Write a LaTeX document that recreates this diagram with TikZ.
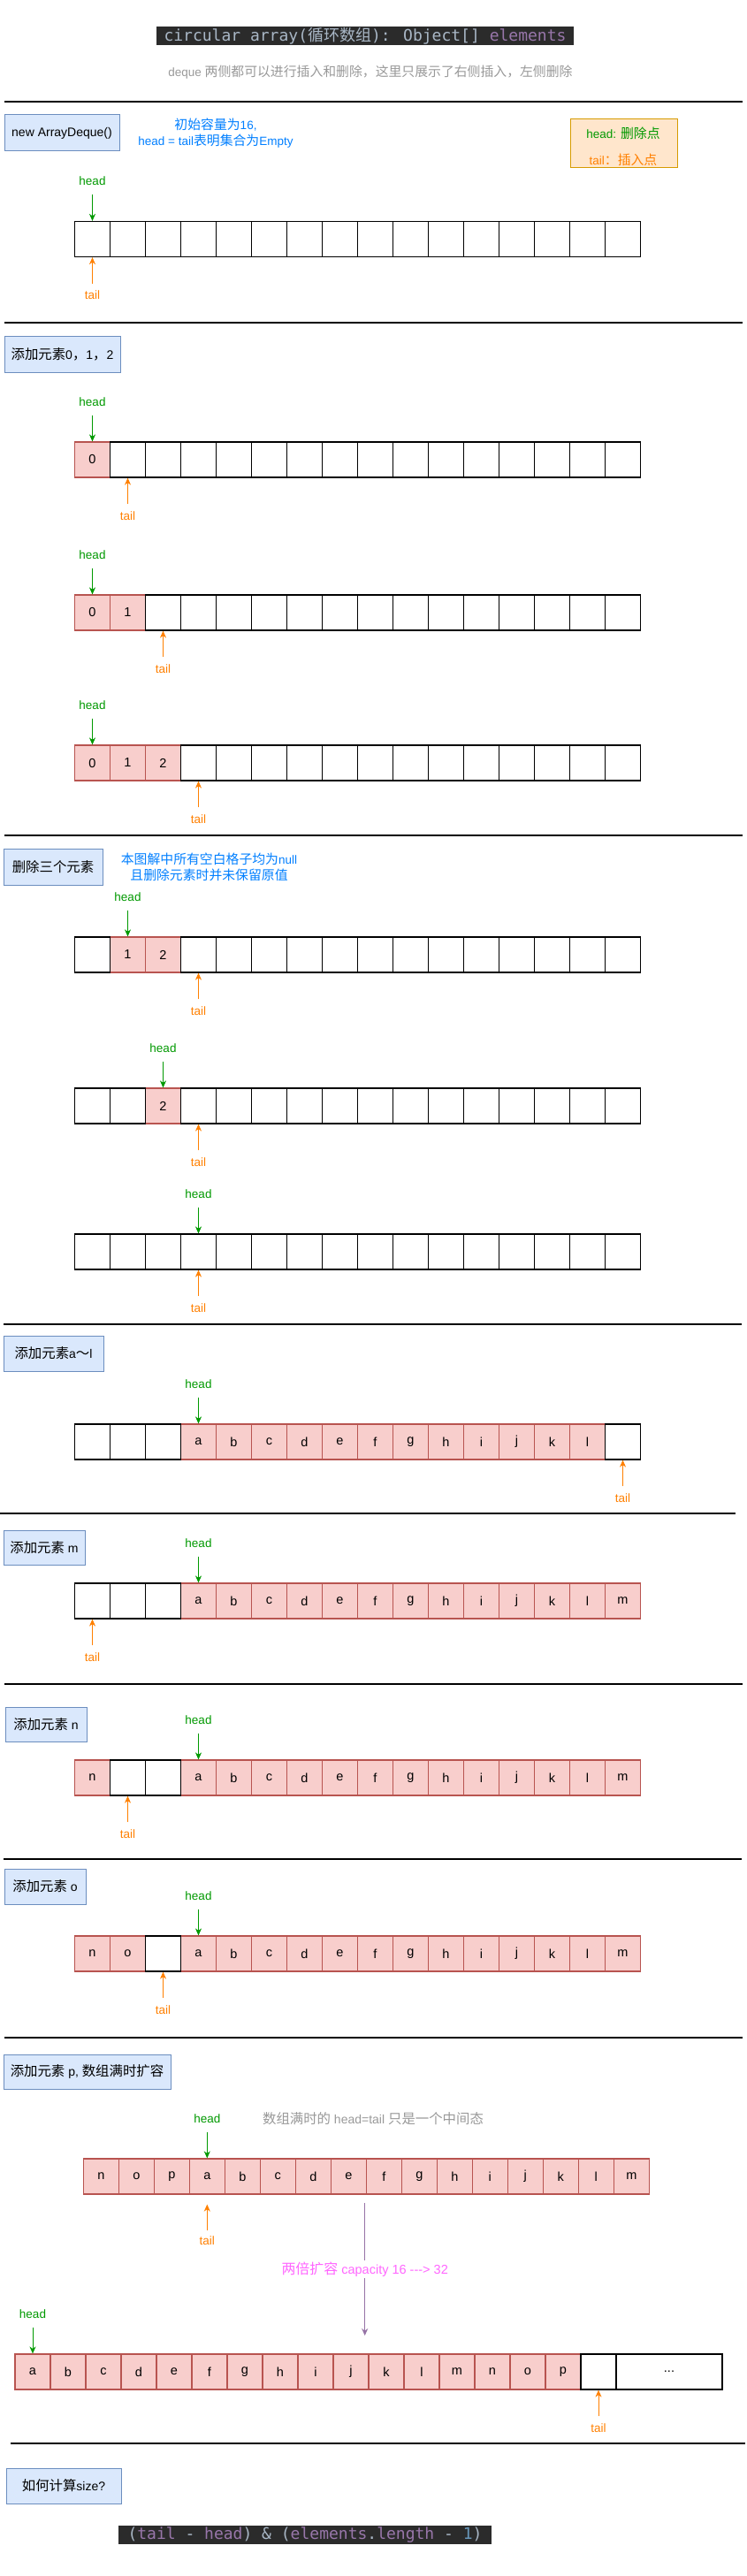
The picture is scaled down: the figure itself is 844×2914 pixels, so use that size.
\documentclass[tikz,border=0pt]{standalone}
\usepackage{fontspec}
\setmainfont{Liberation Sans}
\newfontfamily\cjk{Noto Sans CJK SC}[Scale=1.1]
\newfontfamily\cjkm{Noto Sans CJK SC}
\newfontfamily\monof{DejaVu Sans Mono}
\usetikzlibrary{arrows.meta,calc}
\newcommand\zh[1]{{\cjk #1}}
\newcommand\fsz[2]{\fontsize{#1}{#2}\selectfont}
\definecolor{hgreen}{HTML}{009900}
\definecolor{torange}{HTML}{FF8000}
\definecolor{tblue}{HTML}{007FFF}
\definecolor{tgray}{HTML}{999999}
\definecolor{tmag}{HTML}{FF66FF}
\definecolor{purpline}{HTML}{9673A6}
\definecolor{secf}{HTML}{DAE8FC}
\definecolor{secb}{HTML}{6C8EBF}
\definecolor{pinkf}{HTML}{F8CECC}
\definecolor{pinkb}{HTML}{B85450}
\definecolor{legf}{HTML}{FFE6CC}
\definecolor{legb}{HTML}{D79B00}
\definecolor{codebg}{HTML}{2B2B2B}
\definecolor{codegray}{HTML}{A9B7C6}
\definecolor{codepurp}{HTML}{9876AA}
\definecolor{codeblue}{HTML}{6897BB}
\tikzset{
  wcell/.style={draw=black, fill=white, line width=1.2pt, minimum width=40pt, minimum height=40pt, inner sep=0pt, font=\fsz{14.5}{17}},
  pcell/.style={draw=pinkb, fill=pinkf, line width=1.2pt, minimum width=40pt, minimum height=40pt, inner sep=0pt, font=\fsz{14.5}{17}},
  secbox/.style={draw=secb, fill=secf, line width=1pt, inner sep=0pt, font=\fsz{14}{17}},
  hlab/.style={text=hgreen, font=\fsz{13.5}{16}, inner sep=0pt},
  tlab/.style={text=torange, font=\fsz{13.5}{16}, inner sep=0pt},
  harrow/.style={draw=hgreen, line width=1pt, -{Stealth[length=8pt,width=7pt,inset=2.5pt]}, shorten <=10pt},
  tarrow/.style={draw=torange, line width=1pt, -{Stealth[length=8pt,width=7pt,inset=2.5pt]}, shorten <=8pt},
  parrow/.style={draw=purpline, line width=1pt, -{Stealth[length=8pt,width=7pt,inset=2.5pt]}},
  sepline/.style={draw=black, line width=1.2pt},
  note/.style={inner sep=0pt, align=center},
}
\newcommand\whitecells[4]{\foreach \i in {#4}{\node[wcell] (#1-\i) at ({#2+40*\i+20},{#3+20}) {};}}
\newcommand\pinkcells[4]{\foreach \i/\lbl in {#4}{\node[pcell] (#1-\i) at ({#2+40*\i+20},{#3+20}) {\lbl};}}
\newcommand\headptr[2]{\path (#2.north) ++(0,-45) node[hlab] (#1) {head}; \draw[harrow] (#1) -- (#2.north);}
\newcommand\tailptr[2]{\path (#2.south) ++(0,43) node[tlab] (#1) {tail}; \draw[tarrow] (#1) -- (#2.south);}
\begin{document}
\begin{tikzpicture}[x=1pt,y=-1pt]
\useasboundingbox (0,0) rectangle (844,2914);
\fill[white] (0,0) rectangle (844,2914);
% title
\node[fill=codebg, minimum width=472pt, minimum height=21pt, inner sep=0pt, text=codegray, font={\monof\fsz{18}{21}}] (title) at (413,40.5)
  {circular array({\cjkm 循环数组}): Object[] \textcolor{codepurp}{elements}};
\node[note, text=tgray, font=\fsz{13.5}{16}] (subtitle) at (419,82)
  {deque \zh{两侧都可以进行插入和删除，这里只展示了右侧插入，左侧删除}};
% separators
\draw[sepline] (5,115) -- (840,115);
\draw[sepline] (5,365) -- (840,365);
\draw[sepline] (5,945) -- (840,945);
\draw[sepline] (4,1498) -- (839,1498);
\draw[sepline] (0,1712) -- (832,1712);
\draw[sepline] (5,1905) -- (840,1905);
\draw[sepline] (4,2103) -- (839,2103);
\draw[sepline] (5,2305) -- (840,2305);
\draw[sepline] (12,2764) -- (843,2764);
% section 1
\node[secbox, minimum width=130pt, minimum height=41pt] (s1) at (70,150.5) {new ArrayDeque()};
\node[note, text=tblue, font=\fsz{13.5}{18}] (n1) at (244,151) {\zh{初始容量为}16,\\head = tail\zh{表明集合为}Empty};
\node[draw=legb, fill=legf, line width=1pt, minimum width=121pt, minimum height=55pt, inner sep=0pt] (legend) at (705.5,162.5) {};
\node[note, text=hgreen, font=\fsz{13.5}{16}] (leg1) at (705,151) {head: \zh{删除点}};
\node[note, text=torange, font=\fsz{13.5}{16}] (leg2) at (705,181) {tail\zh{：插入点}};
\whitecells{ra}{84.5}{250.5}{0,...,15}
\headptr{ha}{ra-0}\tailptr{ta}{ra-0}
% section 2
\node[secbox, minimum width=131pt, minimum height=41pt] (s2) at (70.5,400.5) {\zh{添加元素}0\zh{，}1\zh{，}2};
\pinkcells{rb}{84.5}{500}{0/0}
\whitecells{rb}{84.5}{500}{1,...,15}
\headptr{hb}{rb-0}\tailptr{tb}{rb-1}
\pinkcells{rc}{84.5}{673}{0/0,1/1}
\whitecells{rc}{84.5}{673}{2,...,15}
\headptr{hc}{rc-0}\tailptr{tc}{rc-2}
\pinkcells{rd}{84.5}{843}{0/0,1/1,2/2}
\whitecells{rd}{84.5}{843}{3,...,15}
\headptr{hd}{rd-0}\tailptr{td}{rd-3}
% section 3
\node[secbox, minimum width=112pt, minimum height=41pt] (s3) at (60,980.5) {\zh{删除三个元素}};
\node[note, text=tblue, font=\fsz{13.5}{18}] (n2) at (236.5,981) {\zh{本图解中所有空白格子均为}null\\\zh{且删除元素时并未保留原值}};
\pinkcells{re}{84.5}{1060}{1/1,2/2}
\whitecells{re}{84.5}{1060}{0,3,4,...,15}
\headptr{he}{re-1}\tailptr{te}{re-3}
\pinkcells{rf}{84.5}{1231}{2/2}
\whitecells{rf}{84.5}{1231}{0,1,3,4,...,15}
\headptr{hf}{rf-2}\tailptr{tf}{rf-3}
\whitecells{rg}{84.5}{1396}{0,...,15}
\headptr{hg}{rg-3}\tailptr{tg}{rg-3}
% section 4
\node[secbox, minimum width=113pt, minimum height=40pt] (s4) at (60.5,1531) {\zh{添加元素}a\zh{～}l};
\pinkcells{rh}{84.5}{1611}{3/a,4/b,5/c,6/d,7/e,8/f,9/g,10/h,11/i,12/j,13/k,14/l}
\whitecells{rh}{84.5}{1611}{0,1,2,15}
\headptr{hh}{rh-3}\tailptr{th}{rh-15}
% section 5
\node[secbox, minimum width=92pt, minimum height=39pt] (s5) at (50,1750.5) {\zh{添加元素} m};
\pinkcells{rk}{84.5}{1791}{3/a,4/b,5/c,6/d,7/e,8/f,9/g,10/h,11/i,12/j,13/k,14/l,15/m}
\whitecells{rk}{84.5}{1791}{0,1,2}
\headptr{hk}{rk-3}\tailptr{tk}{rk-0}
% section 6
\node[secbox, minimum width=92pt, minimum height=39pt] (s6) at (52,1950.5) {\zh{添加元素} n};
\pinkcells{rm}{84.5}{1991}{0/n,3/a,4/b,5/c,6/d,7/e,8/f,9/g,10/h,11/i,12/j,13/k,14/l,15/m}
\whitecells{rm}{84.5}{1991}{1,2}
\headptr{hm}{rm-3}\tailptr{tm}{rm-1}
% section 7
\node[secbox, minimum width=92pt, minimum height=40pt] (s7) at (51,2134) {\zh{添加元素} o};
\pinkcells{rn}{84.5}{2190}{0/n,1/o,3/a,4/b,5/c,6/d,7/e,8/f,9/g,10/h,11/i,12/j,13/k,14/l,15/m}
\whitecells{rn}{84.5}{2190}{2}
\headptr{hn}{rn-3}\tailptr{tn}{rn-2}
% section 8
\node[secbox, minimum width=189pt, minimum height=39pt] (s8) at (98.5,2343.5) {\zh{添加元素} p, \zh{数组满时扩容}};
\node[note, text=tgray, font=\fsz{14}{17}] (n3) at (422,2397) {\zh{数组满时的} head=tail \zh{只是一个中间态}};
\pinkcells{rp}{94.3}{2442}{0/n,1/o,2/p,3/a,4/b,5/c,6/d,7/e,8/f,9/g,10/h,11/i,12/j,13/k,14/l,15/m}
\headptr{hp}{rp-3}
\path (rp-3.south) ++(0,52) node[tlab] (tp) {tail};
\coordinate (tptip) at ($(rp-3.south)+(0,11)$);
\draw[tarrow, shorten <=6pt] (tp) -- (tptip);
\coordinate (pa) at (412.7,2492);
\coordinate (pb) at (412.7,2642);
\draw[parrow] (pa) -- node[fill=white, inner sep=2pt, text=tmag, font=\fsz{14.5}{17}] (grow) {\zh{两倍扩容} capacity 16 -{}-{}-> 32} (pb);
\pinkcells{rq}{17}{2663}{0/a,1/b,2/c,3/d,4/e,5/f,6/g,7/h,8/i,9/j,10/k,11/l,12/m,13/n,14/o,15/p}
\whitecells{rq}{17}{2663}{16}
\node[wcell, minimum width=120pt] (rq-dots) at (757,2683) {...};
\headptr{hq}{rq-0}\tailptr{tq}{rq-16}
% section 9
\node[secbox, minimum width=130pt, minimum height=40pt] (s9) at (72,2812) {\zh{如何计算}size?};
\node[fill=codebg, minimum width=422pt, minimum height=21pt, inner sep=0pt, text=codegray, font={\monof\fsz{18}{21}}] (formula) at (345,2867.5)
  {(\textcolor{codepurp}{tail} - \textcolor{codepurp}{head}) \& (\textcolor{codepurp}{elements}.\textcolor{codepurp}{length} - \textcolor{codeblue}{1})};
\end{tikzpicture}
\end{document}
